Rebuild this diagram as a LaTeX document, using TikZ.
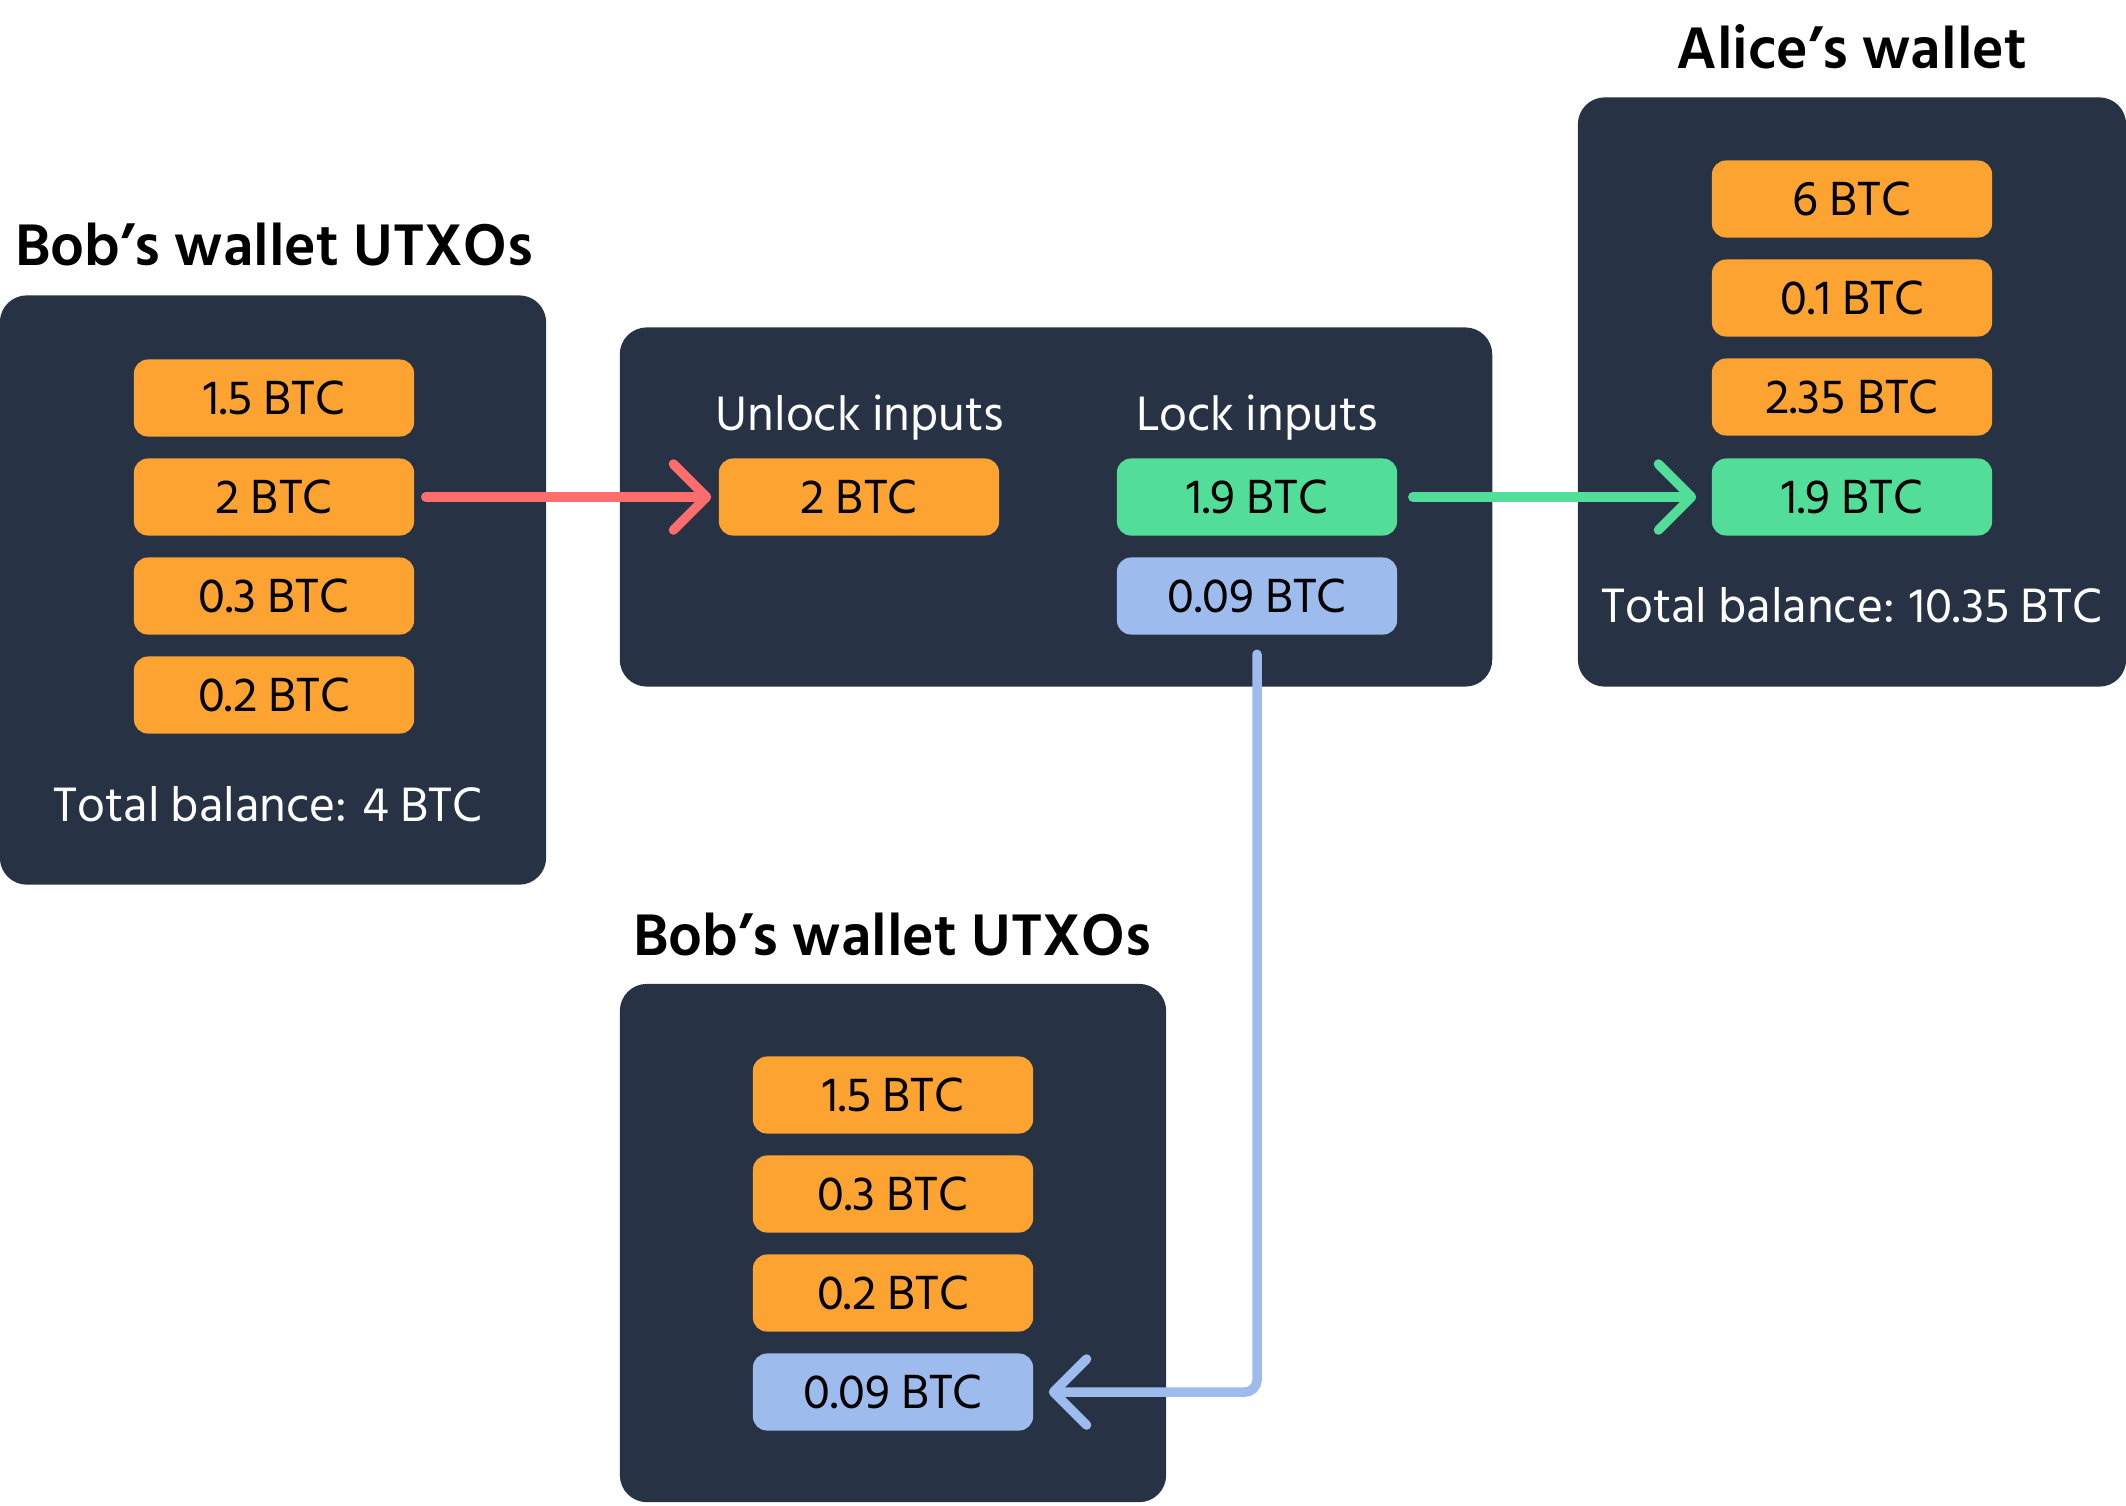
\documentclass[tikz,border=0pt]{standalone}
\usepackage{fontspec}
\setmainfont{Hind Siliguri}
\usetikzlibrary{arrows.meta}

\definecolor{walletbg}{HTML}{283245}
\definecolor{coinorange}{HTML}{FCA332}
\definecolor{coingreen}{HTML}{52DE98}
\definecolor{coinblue}{HTML}{9DBBED}
\definecolor{flowred}{HTML}{FF6D6D}

\begin{document}
\begin{tikzpicture}[x=0.01cm, y=-0.01cm,
  wallet/.style={fill=walletbg, rounded corners=0.27cm, inner sep=0pt},
  coin/.style={rounded corners=0.14cm, minimum width=2.8cm, minimum height=0.77cm,
    inner sep=0pt, text=black, font=\fontsize{14}{16}\selectfont},
  orangecoin/.style={coin, fill=coinorange},
  greencoin/.style={coin, fill=coingreen},
  bluecoin/.style={coin, fill=coinblue},
  title/.style={font=\fontsize{17.1}{20}\selectfont\bfseries, text=black},
  label/.style={font=\fontsize{14.1}{16}\selectfont, text=white},
  flow/.style={line width=2.7pt, line cap=round, -{Straight Barb[length=3.3mm, width=6.6mm, round]}}]

\useasboundingbox (0,0) rectangle (2126,1505);

% wallets
\node[wallet, minimum width=5.46cm, minimum height=5.89cm] (bobwallet) at (273,590) {};
\node[wallet, minimum width=8.72cm, minimum height=3.59cm] (txbox) at (1056,507) {};
\node[wallet, minimum width=5.48cm, minimum height=5.89cm] (alicewallet) at (1852,392) {};
\node[wallet, minimum width=5.46cm, minimum height=5.18cm] (bobnewwallet) at (893,1243) {};

% titles
\node[title] (bobtitle) at (274,245) {Bob’s wallet UTXOs};
\node[title] (alicetitle) at (1852,47) {Alice’s wallet};
\node[title] (bobnewtitle) at (892,934) {Bob’s wallet UTXOs};

% Bob before
\node[orangecoin] (bobA) at (274,398) {1.5 BTC};
\node[orangecoin] (bobB) at (274,497) {2 BTC};
\node[orangecoin] (bobC) at (274,596) {0.3 BTC};
\node[orangecoin] (bobD) at (274,695) {0.2 BTC};
\node[label] (bobtotal) at (268,804) {Total balance: 4 BTC};

% transaction
\node[label] (unlocklabel) at (860,418) {Unlock inputs};
\node[label] (locklabel) at (1257,418) {Lock inputs};
\node[orangecoin] (unlockA) at (859,497) {2 BTC};
\node[greencoin] (lockA) at (1257,497) {1.9 BTC};
\node[bluecoin] (lockB) at (1257,596) {0.09 BTC};

% Alice
\node[orangecoin] (aliceA) at (1852,199) {6 BTC};
\node[orangecoin] (aliceB) at (1852,298) {0.1 BTC};
\node[orangecoin] (aliceC) at (1852,397) {2.35 BTC};
\node[greencoin] (aliceD) at (1852,497) {1.9 BTC};
\node[label] (alicetotal) at (1852,605) {Total balance: 10.35 BTC};

% Bob after
\node[orangecoin] (bobnA) at (893,1095) {1.5 BTC};
\node[orangecoin] (bobnB) at (893,1194) {0.3 BTC};
\node[orangecoin] (bobnC) at (893,1293) {0.2 BTC};
\node[bluecoin] (bobnD) at (893,1392) {0.09 BTC};

% flows
\draw[flow, flowred] ([xshift=0.11cm]bobB.east) -- ([xshift=-0.07cm]unlockA.west);
\draw[flow, coingreen] ([xshift=0.15cm]lockA.east) -- ([xshift=-0.15cm]aliceD.west);
\draw[flow, coinblue, rounded corners=0.12cm] ([yshift=-0.19cm]lockB.south) |- ([xshift=0.15cm]bobnD.east);

\end{tikzpicture}
\end{document}
